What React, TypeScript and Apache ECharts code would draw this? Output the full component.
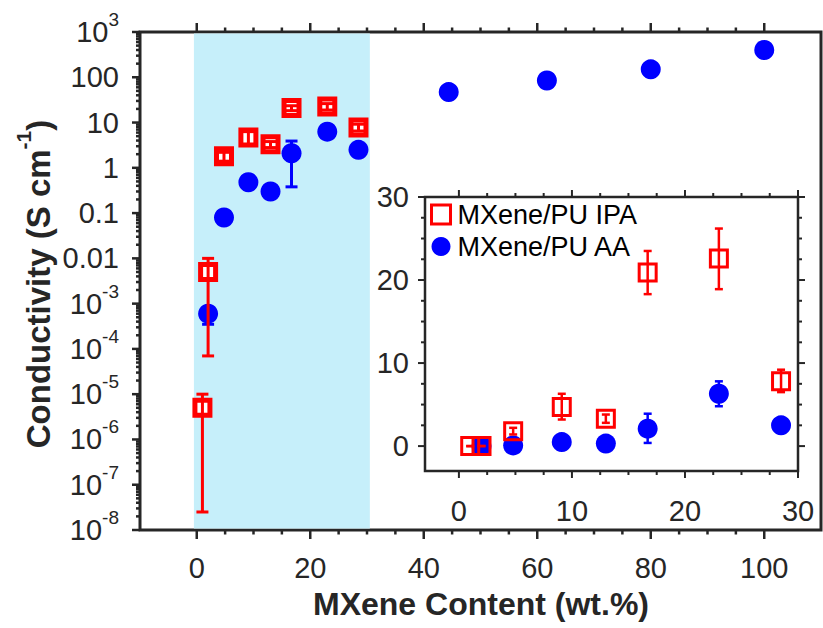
import React, { useEffect, useRef } from 'react';
import * as echarts from 'echarts';

// ---- data (conductivity in S/cm, content in wt.%) ----
const ipaX = [1, 2, 4.8, 9.1, 13, 16.7, 23, 28.5];
const ipaY = [5e-6, 0.005, 1.8, 4.7, 3.3, 20.9, 22.6, 7.8];
const ipaLow = [2.5e-8, 7e-5, 1.4, 3.2, 2.8, 18.3, 18.9, 6.5];
const ipaHigh = [1e-5, 0.01, 2.2, 6.3, 3.8, 23.5, 26.2, 9.2];

const aaX = [2, 4.8, 9.1, 13, 16.7, 23, 28.5, 44.4, 61.7, 80, 100];
const aaY = [6e-4, 0.08, 0.48, 0.3, 2.1, 6.3, 2.5, 47, 85, 150, 400];
const aaLow = [3.5e-4, 0.07, 0.42, 0.26, 0.38, 4.8, 2.3, 47, 85, 150, 400];
const aaHigh = [8e-4, 0.09, 0.55, 0.34, 3.9, 7.8, 2.7, 47, 85, 150, 400];

const shadeRange = [-0.5, 30.5];

const mainXTickLabels = [0, 20, 40, 60, 80, 100];
const mainYExponents = [-8, -7, -6, -5, -4, -3, -2, -1, 0, 1, 2, 3];
const mainYTickText = ['10{s|-8}', '10{s|-7}', '10{s|-6}', '10{s|-5}', '10{s|-4}', '10{s|-3}', '0.01', '0.1', '1', '10', '100', '10{s|3}'];
const insetTickLabels = [0, 10, 20, 30];

const FONT = "'Liberation Sans', Arial, Helvetica, sans-serif";
const AX = '#262626';
const RED = '#ff0000';
const BLUE = '#0000ff';

function tickSeries(xi: number, yi: number, items: number[][], lw: number) {
  return {
    type: 'custom',
    xAxisIndex: xi,
    yAxisIndex: yi,
    silent: true,
    z: 6,
    clip: false,
    data: items,
    renderItem: (params: any, api: any) => {
      const p = api.coord([api.value(0), api.value(1)]);
      return {
        type: 'line',
        shape: { x1: p[0], y1: p[1], x2: p[0] + api.value(2), y2: p[1] + api.value(3) },
        style: { stroke: AX, lineWidth: lw },
      };
    },
  };
}

function errSeries(name: string, xi: number, yi: number, items: number[][], color: string, lw: number, cap: number, z: number) {
  return {
    type: 'custom',
    name,
    xAxisIndex: xi,
    yAxisIndex: yi,
    silent: true,
    clip: false,
    z,
    encode: { x: 0, y: [1, 2] },
    data: items,
    renderItem: (params: any, api: any) => {
      const a = api.coord([api.value(0), api.value(1)]);
      const b = api.coord([api.value(0), api.value(2)]);
      const st = { stroke: color, lineWidth: lw };
      return {
        type: 'group',
        children: [
          { type: 'line', shape: { x1: a[0], y1: a[1], x2: b[0], y2: b[1] }, style: st },
          { type: 'line', shape: { x1: a[0] - cap, y1: a[1], x2: a[0] + cap, y2: a[1] }, style: st },
          { type: 'line', shape: { x1: b[0] - cap, y1: b[1], x2: b[0] + cap, y2: b[1] }, style: st },
        ],
      };
    },
  };
}

export default function App() {
  const ref = useRef<HTMLDivElement>(null);
  useEffect(() => {
    if (!ref.current) return;
    const chart = echarts.init(ref.current, undefined, { renderer: 'svg' });
    const lg = (v: number) => Math.log10(v);

    // ticks
    const mainXT: number[][] = [];
    for (let v = 0; v <= 100; v += 5) {
      const len = mainXTickLabels.includes(v) ? 9 : 4.5;
      mainXT.push([v, -8, 0, len]);
      mainXT.push([v, 3, 0, -len]);
    }
    const mainYT: number[][] = [];
    mainYExponents.forEach((e) => {
      mainYT.push([-10, e, -8, 0]);
      if (e < 3) for (let k = 2; k <= 9; k++) mainYT.push([-10, e + Math.log10(k), -4, 0]);
    });
    const insXT: number[][] = [];
    const insYT: number[][] = [];
    for (let v = 0; v <= 30; v += 2.5) {
      const len = insetTickLabels.includes(v) ? 7 : 4;
      insXT.push([v, -3, 0, len]);
      insXT.push([v, 30, 0, -len]);
      insYT.push([-3, v, -len, 0]);
      insYT.push([30, v, len, 0]);
    }

    const labelBase = { fontFamily: FONT, color: AX, fontSize: 29 };

    const option: any = {
      animation: false,
      backgroundColor: '#fff',
      grid: [
        { left: 140, top: 32, width: 681, height: 498, show: true, borderColor: AX, borderWidth: 3, backgroundColor: 'transparent', containLabel: false, outerBoundsMode: 'none', z: 0 },
        { left: 425, top: 197, width: 373, height: 274, show: true, borderColor: AX, borderWidth: 2.5, backgroundColor: '#fff', containLabel: false, outerBoundsMode: 'none', z: 8 },
      ],
      xAxis: [
        {
          gridIndex: 0, type: 'value', min: -10, max: 110, interval: 10,
          axisLine: { show: false }, axisTick: { show: false }, splitLine: { show: false },
          axisLabel: { ...labelBase, margin: 23, lineHeight: 29, formatter: (v: number) => (mainXTickLabels.includes(v) ? String(v) : '') },
        },
        {
          gridIndex: 1, type: 'value', min: -3, max: 30, interval: 1,
          axisLine: { show: false }, axisTick: { show: false }, splitLine: { show: false },
          axisLabel: { ...labelBase, margin: 25, formatter: (v: number) => (insetTickLabels.includes(v) ? String(v) : '') },
        },
      ],
      yAxis: [
        {
          gridIndex: 0, type: 'value', min: -8, max: 3, interval: 1,
          axisLine: { show: false }, axisTick: { show: false }, splitLine: { show: false },
          axisLabel: {
            ...labelBase, margin: 21, lineHeight: 44,
            formatter: (v: number) => {
              const i = mainYExponents.indexOf(Math.round(v));
              return i >= 0 ? mainYTickText[i] : '';
            },
            rich: { s: { fontFamily: FONT, color: AX, fontSize: 19, lineHeight: 19, verticalAlign: 'top' } },
          },
        },
        {
          gridIndex: 1, type: 'value', min: -3, max: 30, interval: 1,
          axisLine: { show: false }, axisTick: { show: false }, splitLine: { show: false },
          axisLabel: { ...labelBase, margin: 16, formatter: (v: number) => (insetTickLabels.includes(v) ? String(v) : '') },
        },
      ],
      legend: {
        data: [
          { name: 'MXene/PU IPA', icon: 'rect', itemStyle: { color: 'rgba(0,0,0,0)', borderColor: RED, borderWidth: 3 } },
          { name: 'MXene/PU AA', icon: 'circle', itemStyle: { color: BLUE, borderWidth: 0 } },
        ],
        orient: 'vertical', left: 425, top: 196, itemWidth: 19, itemHeight: 19, itemGap: 5,
        selectedMode: false, z: 20,
        textStyle: { fontFamily: FONT, fontSize: 27, color: '#000', padding: [0, 0, 0, 2] },
      },
      graphic: [
        {
          type: 'text', x: 38, y: 284, rotation: Math.PI / 2, z: 30,
          style: {
            text: 'Conductivity (S cm{s|-1})', fontFamily: FONT, fontSize: 33, fontWeight: 'bold', fill: AX,
            align: 'center', verticalAlign: 'middle', lineHeight: 50,
            rich: { s: { fontFamily: FONT, fontSize: 21, fontWeight: 'bold', fill: AX, lineHeight: 21, verticalAlign: 'top' } },
          },
        },
        {
          type: 'text', x: 481, y: 604, z: 30,
          style: { text: 'MXene Content (wt.%)', fontFamily: FONT, fontSize: 32, fontWeight: 'bold', fill: AX, align: 'center', verticalAlign: 'middle', lineHeight: 32 },
        },
      ],
      series: [
        {
          type: 'custom', name: 'shade', xAxisIndex: 0, yAxisIndex: 0, silent: true, z: 1, clip: false,
          data: [shadeRange],
          renderItem: (params: any, api: any) => {
            const a = api.coord([api.value(0), 3]);
            const b = api.coord([api.value(1), -8]);
            return { type: 'rect', shape: { x: a[0], y: a[1] + 1.5, width: b[0] - a[0], height: b[1] - a[1] - 3 }, style: { fill: '#c6effa' } };
          },
        },
        tickSeries(0, 0, mainXT, 2.5),
        tickSeries(0, 0, mainYT, 2.5),
        errSeries('AA err main', 0, 0, aaX.map((x, i) => [x, lg(aaLow[i]), lg(aaHigh[i])]), BLUE, 3, 6, 3),
        {
          type: 'scatter', name: 'AA main', xAxisIndex: 0, yAxisIndex: 0, z: 3,
          symbol: 'circle', symbolSize: 20, itemStyle: { color: BLUE, opacity: 1 },
          data: aaX.map((x, i) => [x, lg(aaY[i])]),
        },
        {
          type: 'scatter', name: 'IPA main', xAxisIndex: 0, yAxisIndex: 0, z: 4,
          symbol: 'rect', symbolSize: 15, itemStyle: { color: '#fff', borderColor: RED, borderWidth: 5, opacity: 1 },
          data: ipaX.map((x, i) => [x, lg(ipaY[i])]),
        },
        errSeries('IPA err main', 0, 0, ipaX.map((x, i) => [x, lg(ipaLow[i]), lg(ipaHigh[i])]), RED, 3, 6, 5),
        // inset
        tickSeries(1, 1, insXT, 2),
        tickSeries(1, 1, insYT, 2),
        errSeries('AA err inset', 1, 1, aaX.map((x, i) => [x, aaLow[i], aaHigh[i]]).filter((d) => d[0] <= 30), BLUE, 2.5, 4, 10),
        {
          type: 'scatter', name: 'MXene/PU AA', xAxisIndex: 1, yAxisIndex: 1, z: 10,
          symbol: 'circle', symbolSize: 20, itemStyle: { color: BLUE, opacity: 1 },
          data: aaX.map((x, i) => [x, aaY[i]]).filter((d) => d[0] <= 30),
        },
        {
          type: 'scatter', name: 'MXene/PU IPA', xAxisIndex: 1, yAxisIndex: 1, z: 11,
          symbol: 'rect', symbolSize: 17, itemStyle: { color: 'rgba(0,0,0,0)', borderColor: RED, borderWidth: 3, opacity: 1 },
          data: ipaX.map((x, i) => [x, ipaY[i]]),
        },
        errSeries('IPA err inset', 1, 1, ipaX.map((x, i) => [x, ipaLow[i], ipaHigh[i]]), RED, 2.5, 4, 12),
      ],
    };
    chart.setOption(option);
    return () => chart.dispose();
  }, []);
  return <div ref={ref} style={{ position: 'absolute', left: 0, top: 0, width: 823, height: 628 }} />;
}
